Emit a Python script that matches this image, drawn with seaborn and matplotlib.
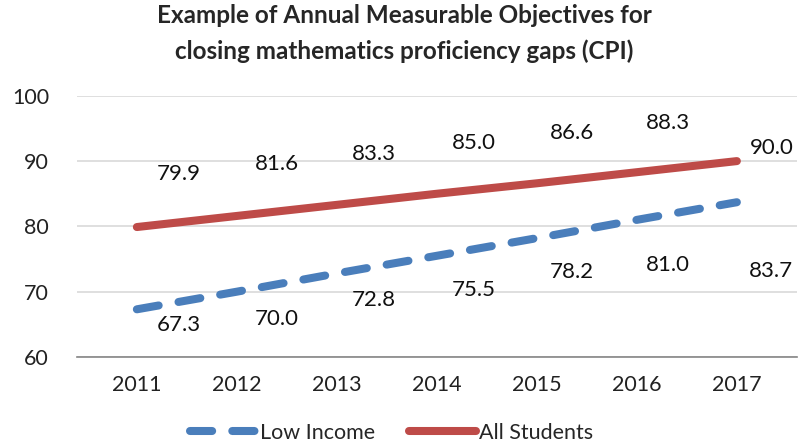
import numpy as np
import pandas as pd
import matplotlib
matplotlib.use('Agg')
import matplotlib.pyplot as plt
import seaborn as sns

# データ
years = ['2011', '2012', '2013', '2014', '2015', '2016', '2017']
low_income = [67.3, 70.0, 72.8, 75.5, 78.2, 81.0, 83.7]
all_students = [79.9, 81.6, 83.3, 85.0, 86.6, 88.3, 90.0]

# ラベル位置 (pixel offset)
low_offsets = [(42, -16), (40, -27), (37, -27), (37, -34), (35, -34), (31, -45), (34, -69)]
all_offsets = [(42, 53), (40, 52), (37, 51), (37, 51), (35, 50), (31, 49), (35, 13)]

df = pd.DataFrame({'Year': years, 'Low Income': low_income, 'All Students': all_students})
long_df = df.melt(id_vars='Year', var_name='Group', value_name='CPI')

sns.set_style('white')
plt.rcParams['font.family'] = ['Lato', 'DejaVu Sans']

fig = plt.figure(figsize=(8.09, 4.46), dpi=100)
ax = fig.add_axes([0.095, 0.1996, 0.89, 0.5856])

blue = '#4A7EBB'
red = '#BE4B48'
lw = 5.8

sns.lineplot(data=long_df, x='Year', y='CPI', hue='Group', style='Group',
             palette={'Low Income': blue, 'All Students': red},
             dashes={'Low Income': (2.75, 2.5), 'All Students': ''},
             linewidth=lw, ax=ax, sort=False)
for line in ax.get_lines():
    line.set_dash_capstyle('round')
    line.set_solid_capstyle('round')

for i, (v, off) in enumerate(zip(low_income, low_offsets)):
    ax.annotate(f'{v:.1f}', (i, v), xytext=off, textcoords='offset pixels',
                ha='center', va='center', fontsize=16, color='#111111')
for i, (v, off) in enumerate(zip(all_students, all_offsets)):
    ax.annotate(f'{v:.1f}', (i, v), xytext=off, textcoords='offset pixels',
                ha='center', va='center', fontsize=16, color='#111111')

ax.set_ylim(60, 100)
ax.set_yticks([60, 70, 80, 90, 100])
ax.set_xlim(-0.6, 6.6)
ax.grid(axis='y', color='#D9D9D9', linewidth=1.2)
ax.set_axisbelow(True)
for s in ['top', 'right', 'left']:
    ax.spines[s].set_visible(False)
ax.spines['bottom'].set_color('#868686')
ax.spines['bottom'].set_linewidth(1.2)
ax.tick_params(axis='both', length=0, labelsize=15.5, labelcolor='#222222')
ax.tick_params(axis='y', pad=20)
ax.tick_params(axis='x', pad=13)
ax.set_xlabel('')
ax.set_ylabel('')

ax.legend(loc='center', bbox_to_anchor=(0.437, -0.29), ncol=2, frameon=False,
          fontsize=15.5, handlelength=3.1, columnspacing=1.6, handletextpad=0.15)

fig.suptitle('Example of Annual Measurable Objectives for\nclosing mathematics proficiency gaps (CPI)',
             x=0.5, y=0.99, fontsize=17.5, fontweight='bold', linespacing=1.6)

plt.savefig('out.png', dpi=100)
